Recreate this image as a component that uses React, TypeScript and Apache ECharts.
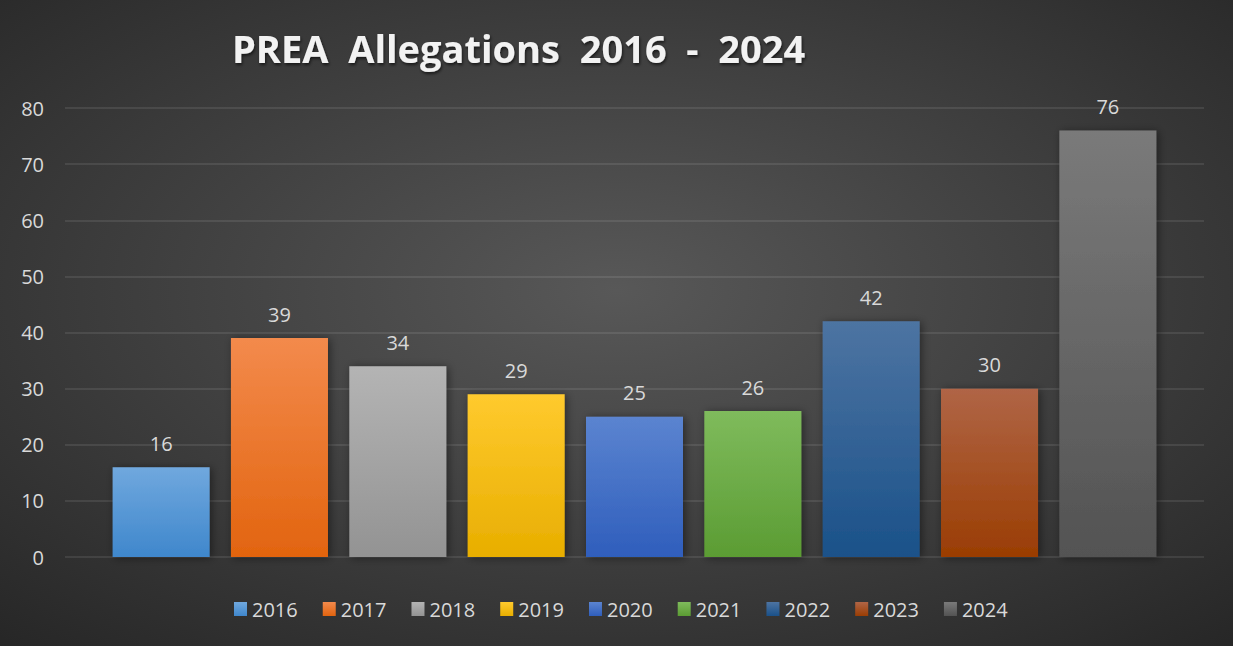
import React, { useEffect, useRef } from "react";
import * as echarts from "echarts";

const years = ["2016", "2017", "2018", "2019", "2020", "2021", "2022", "2023", "2024"];
const values = [16, 39, 34, 29, 25, 26, 42, 30, 76];
const topColors = ["#70a8de", "#f38a4c", "#b4b4b4", "#ffca2e", "#5b84d0", "#7fbb5c", "#4d74a2", "#b06546", "#7a7a7a"];
const bottomColors = ["#3f87cc", "#e2640f", "#939393", "#e8ae00", "#2f5ebc", "#5b9c33", "#1a5189", "#9a3d03", "#535353"];
const yTicks = { min: 0, max: 80, interval: 10 };
const title = "PREA  Allegations  2016  -  2024";

const FONT = "'Open Sans', 'Noto Sans', sans-serif";

export default function App() {
  const ref = useRef<HTMLDivElement>(null);
  useEffect(() => {
    document.body.style.margin = "0";
    const chart = echarts.init(ref.current!, undefined, { renderer: "svg" });
    const series = years.map((y, i) => ({
      name: y,
      type: "bar",
      data: [values[i]],
      barWidth: 97,
      barGap: "22%",
      itemStyle: {
        color: {
          type: "linear",
          x: 0, y: 0, x2: 0, y2: 1,
          colorStops: [
            { offset: 0, color: topColors[i] },
            { offset: 1, color: bottomColors[i] },
          ],
        },
        shadowBlur: 8,
        shadowColor: "rgba(0,0,0,0.45)",
        shadowOffsetX: 2,
        shadowOffsetY: 1,
      },
      label: {
        show: true,
        position: "top",
        distance: 14,
        color: "#d9d9d9",
        fontSize: 20,
        fontFamily: FONT,
      },
    }));
    chart.setOption({
      animation: false,
      backgroundColor: {
        type: "radial",
        x: 0.5,
        y: 0.45,
        r: 0.75,
        colorStops: [
          { offset: 0, color: "#585858" },
          { offset: 1, color: "#262626" },
        ],
      },
      title: {
        text: title,
        left: 232,
        top: 29,
        padding: 0,
        textStyle: {
          color: "#f2f2f2",
          fontSize: 38,
          fontWeight: "bold",
          fontFamily: FONT,
          textShadowColor: "rgba(0,0,0,0.6)",
          textShadowBlur: 3,
          textShadowOffsetX: 1,
          textShadowOffsetY: 2,
        },
      },
      legend: {
        data: years,
        bottom: 22,
        left: 229,
        icon: "rect",
        itemWidth: 13,
        itemHeight: 14,
        itemGap: 25,
        textStyle: { color: "#d9d9d9", fontSize: 20, fontFamily: FONT },
      },
      grid: { left: 65, right: 29, top: 108, bottom: 89, containLabel: false },
      xAxis: {
        type: "category",
        data: [""],
        axisLine: { show: false },
        axisTick: { show: false },
        axisLabel: { show: false },
      },
      yAxis: {
        type: "value",
        min: yTicks.min,
        max: yTicks.max,
        interval: yTicks.interval,
        axisLine: { show: false },
        axisTick: { show: false },
        axisLabel: { color: "#d9d9d9", fontSize: 20, margin: 21, fontFamily: FONT },
        splitLine: { lineStyle: { color: "rgba(255,255,255,0.12)", width: 1.5 } },
      },
      series,
    });
    return () => chart.dispose();
  }, []);
  return <div ref={ref} style={{ width: 1233, height: 646 }} />;
}
